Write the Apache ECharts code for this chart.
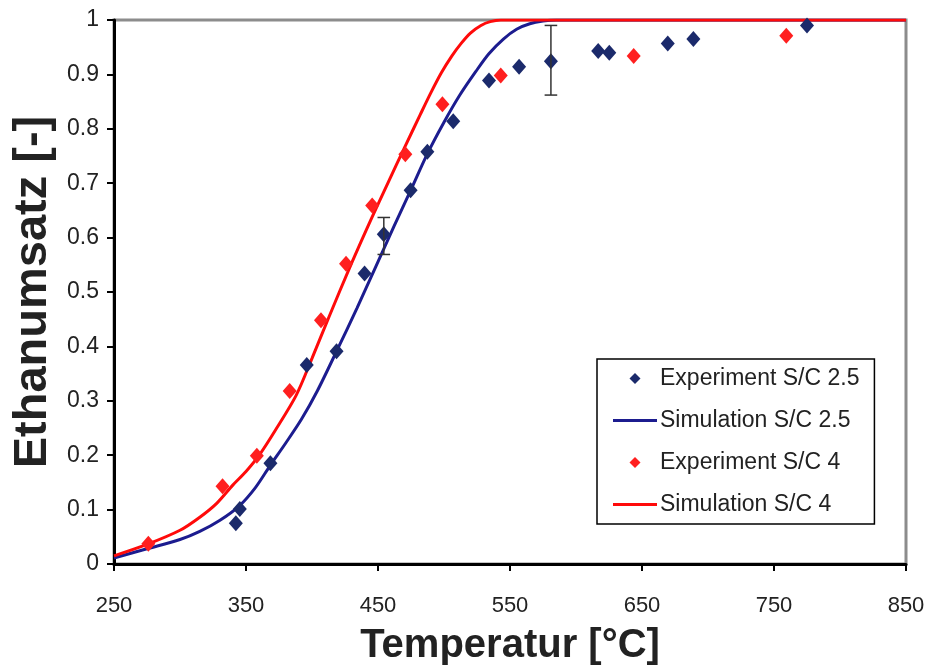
<!DOCTYPE html>
<html><head><meta charset="utf-8">
<script src="https://cdn.jsdelivr.net/npm/echarts@6/dist/echarts.min.js"></script>
<style>html,body{margin:0;padding:0;background:#fff}#c{width:930px;height:671px}</style>
</head><body><div id="c"></div>
<script>
// Experiment S/C 2.5
const expT25 = [342.3, 345.3, 368.5, 396, 418.6, 439.8, 454.4, 474.7, 487.4, 507, 534.1, 556.9, 581, 616.8, 625.2, 669.5, 688.9, 775];
const expY25 = [0.075, 0.101, 0.185, 0.366, 0.391, 0.534, 0.606, 0.687, 0.758, 0.814, 0.889, 0.914, 0.924, 0.943, 0.940, 0.957, 0.965, 0.990];
// Experiment S/C 4
const expT4 = [276, 332.2, 358.2, 383.1, 406.8, 425.8, 445.6, 470.7, 498.8, 543, 643.7, 759.3];
const expY4 = [0.037, 0.143, 0.199, 0.318, 0.448, 0.552, 0.659, 0.753, 0.845, 0.898, 0.934, 0.971];
// Simulation S/C 2.5
const simT25 = [250, 275, 300, 315, 330, 345, 357, 368, 380, 392, 404, 419, 434, 448, 462, 475, 487, 500, 512, 524, 534, 545, 555, 565, 575, 585, 850];
const simY25 = [0.011, 0.028, 0.045, 0.060, 0.080, 0.107, 0.140, 0.180, 0.222, 0.266, 0.318, 0.393, 0.470, 0.545, 0.620, 0.688, 0.752, 0.812, 0.862, 0.905, 0.938, 0.965, 0.983, 0.993, 0.998, 1.0, 1.0];
// Simulation S/C 4
const simT4 = [250, 275, 300, 315, 328, 340, 350, 360, 372, 388, 400, 413, 430, 445, 458, 470, 482, 490, 498, 506, 513, 520, 528, 535, 543, 850];
const simY4 = [0.015, 0.036, 0.062, 0.086, 0.112, 0.145, 0.170, 0.200, 0.245, 0.310, 0.378, 0.455, 0.553, 0.635, 0.703, 0.765, 0.826, 0.866, 0.903, 0.934, 0.957, 0.976, 0.990, 0.997, 1.0, 1.0];
// Error bars (S/C 2.5): temperature, lower, upper
const errT = [454.4, 581];
const errLo = [0.569, 0.862];
const errHi = [0.637, 0.990];
// Axis ticks
const xTicks = [250, 350, 450, 550, 650, 750, 850];
const yTicks = [0, 0.1, 0.2, 0.3, 0.4, 0.5, 0.6, 0.7, 0.8, 0.9, 1];

const zip = (a, b) => a.map((v, i) => [v, b[i]]);
const FONT = "'Liberation Sans', Arial, sans-serif";
const BLUE_PT = '#1b2a6b', BLUE_LN = '#1c1c8f', RED_PT = '#ff1f1f', RED_LN = '#ff0a0a';
const diamondIcon = 'path://M0,-1L1,0L0,1L-1,0Z';
const lineIcon = 'path://M0,0L44,0L44,3L0,3Z';

const chart = echarts.init(document.getElementById('c'), null, {renderer: 'canvas'});
chart.setOption({
  animation: false,
  backgroundColor: '#fff',
  grid: {left: 114, right: 24, top: 20, bottom: 102, show: true, borderColor: '#8c8c8c', borderWidth: 3, backgroundColor: '#fff'},
  xAxis: {
    type: 'value', min: xTicks[0], max: xTicks[xTicks.length - 1], interval: 100,
    name: 'Temperatur [°C]', nameLocation: 'middle', nameGap: 62,
    nameTextStyle: {fontFamily: FONT, fontWeight: 'bold', fontSize: 40, color: '#222'},
    axisLine: {show: true, lineStyle: {color: '#000', width: 3}},
    axisTick: {show: true, inside: false, length: 7, lineStyle: {color: '#000', width: 2}},
    axisLabel: {fontFamily: FONT, fontSize: 22, color: '#222', margin: 31},
    splitLine: {show: false}
  },
  yAxis: {
    type: 'value', min: yTicks[0], max: yTicks[yTicks.length - 1], interval: 0.1,
    name: 'Ethanumsatz [-]', nameLocation: 'middle', nameGap: 56,
    nameTextStyle: {fontFamily: FONT, fontWeight: 'bold', fontSize: 47, color: '#222'},
    axisLine: {show: true, lineStyle: {color: '#000', width: 3}},
    axisTick: {show: true, inside: false, length: 7, lineStyle: {color: '#000', width: 2}},
    axisLabel: {fontFamily: FONT, fontSize: 23, color: '#222', margin: 15,
      formatter: v => (v === 0 ? '0' : v === 1 ? '1' : v.toFixed(1))},
    splitLine: {show: false}
  },
  legend: {
    orient: 'vertical', left: 597, top: 359,
    padding: [8, 15, 8, 16], itemGap: 19, itemWidth: 44, itemHeight: 11,
    borderColor: '#000', borderWidth: 1.5, backgroundColor: '#fff',
    symbolKeepAspect: true,
    textStyle: {fontFamily: FONT, fontSize: 23, color: '#222', padding: [0, 0, 0, -2]},
    data: [
      {name: 'Experiment S/C 2.5', icon: diamondIcon, itemStyle: {color: BLUE_PT, opacity: 1}},
      {name: 'Simulation S/C 2.5', icon: lineIcon, itemStyle: {color: BLUE_LN}},
      {name: 'Experiment S/C 4', icon: diamondIcon, itemStyle: {color: RED_PT, opacity: 1}},
      {name: 'Simulation S/C 4', icon: lineIcon, itemStyle: {color: RED_LN}}
    ]
  },
  series: [
    {
      name: 'Experiment S/C 2.5', type: 'scatter', data: zip(expT25, expY25),
      symbol: 'diamond', symbolSize: [14, 16], itemStyle: {color: BLUE_PT, opacity: 1}, z: 4
    },
    {
      name: 'Simulation S/C 2.5', type: 'line', data: zip(simT25, simY25),
      symbol: 'none', smooth: 0.3, lineStyle: {color: BLUE_LN, width: 3}, itemStyle: {color: BLUE_LN}, z: 3
    },
    {
      name: 'Experiment S/C 4', type: 'scatter', data: zip(expT4, expY4),
      symbol: 'diamond', symbolSize: [14, 16], itemStyle: {color: RED_PT, opacity: 1}, z: 4
    },
    {
      name: 'Simulation S/C 4', type: 'line', data: zip(simT4, simY4),
      symbol: 'none', smooth: 0.3, lineStyle: {color: RED_LN, width: 3}, itemStyle: {color: RED_LN}, z: 3
    },
    {
      name: 'Fehlerbalken', type: 'custom',
      data: errT.map((t, i) => [t, errLo[i], errHi[i]]),
      encode: {x: 0, y: [1, 2]}, z: 5,
      renderItem: (params, api) => {
        const x = api.value(0);
        const p1 = api.coord([x, api.value(1)]);
        const p2 = api.coord([x, api.value(2)]);
        const w = 6.3;
        const st = {stroke: '#333', lineWidth: 1.5};
        return {type: 'group', children: [
          {type: 'line', shape: {x1: p1[0], y1: p1[1], x2: p2[0], y2: p2[1]}, style: st},
          {type: 'line', shape: {x1: p1[0] - w, y1: p1[1], x2: p1[0] + w, y2: p1[1]}, style: st},
          {type: 'line', shape: {x1: p2[0] - w, y1: p2[1], x2: p2[0] + w, y2: p2[1]}, style: st}
        ]};
      }
    }
  ]
});
</script>
</body></html>
